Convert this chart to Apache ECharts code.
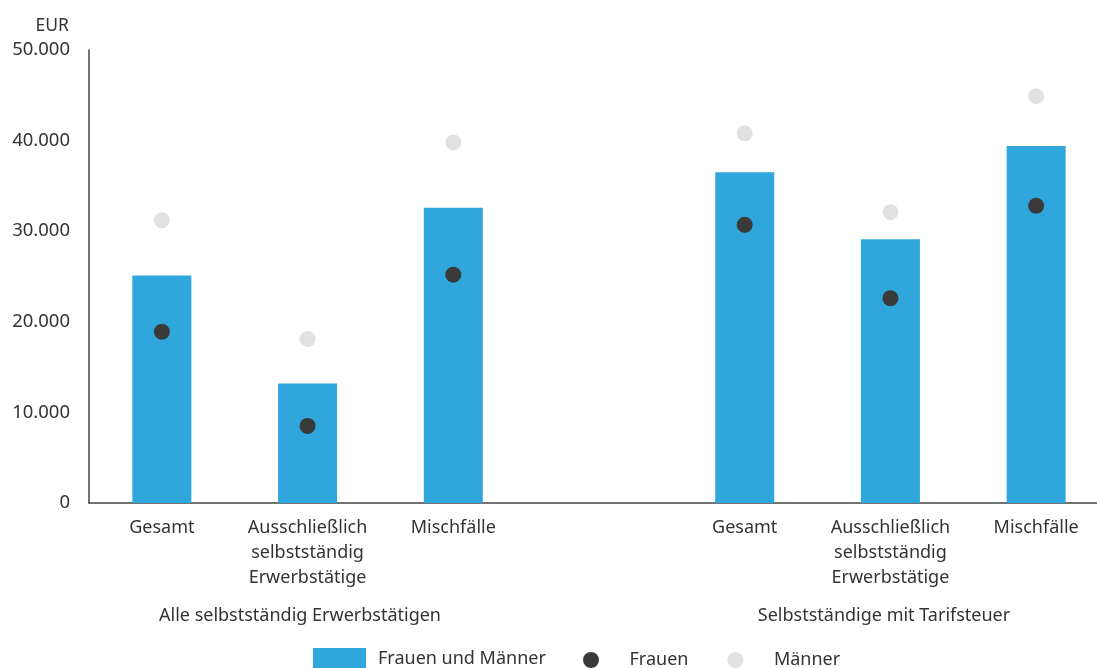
<!DOCTYPE html>
<html>
<head>
<meta charset="utf-8">
<script src="https://cdn.jsdelivr.net/npm/echarts@6/dist/echarts.min.js"></script>
<style>html,body{margin:0;padding:0;background:#fff}#c{width:1097px;height:668px}</style>
</head>
<body>
<div id="c"></div>
<script>
const categories = ['Gesamt', 'Ausschließlich\nselbstständig\nErwerbstätige', 'Mischfälle', '', 'Gesamt', 'Ausschließlich\nselbstständig\nErwerbstätige', 'Mischfälle'];
const groupLabels = ['Alle selbstständig Erwerbstätigen', 'Selbstständige mit Tarifsteuer'];
const totalValues = [25100, 13200, 32600, '-', 36500, 29100, 39400];
const womenValues = [18900, 8500, 25200, '-', 30700, 22600, 32800];
const menValues = [31200, 18100, 39800, '-', 40800, 32100, 44900];
const yTicks = { min: 0, max: 50000, interval: 10000 };

const FONT = 'Noto Sans';
const TXT = '#333333';
const chart = echarts.init(document.getElementById('c'), null, { renderer: 'canvas' });

const fmt = v => String(v).replace(/\B(?=(\d{3})+(?!\d))/g, '.');

chart.setOption({
  animation: false,
  textStyle: { fontFamily: FONT, color: TXT },
  grid: { left: 89, top: 50, width: 1020, bottom: 165, containLabel: false, outerBoundsMode: 'none' },
  legend: [
    {
      data: [{ name: 'Frauen und Männer', icon: 'rect' }],
      left: 308, top: 643,
      itemWidth: 53, itemHeight: 21,
      textStyle: { fontFamily: FONT, fontSize: 18, color: TXT, padding: [0, 0, 0, 7] }
    },
    {
      data: [{ name: 'Frauen', icon: 'circle' }, { name: 'Männer', icon: 'circle' }],
      left: 578, top: 646,
      itemWidth: 53, itemHeight: 16, itemGap: 39,
      textStyle: { fontFamily: FONT, fontSize: 18, color: TXT, padding: [0, 0, 0, 7] }
    }
  ],
  xAxis: {
    type: 'category',
    data: categories,
    axisLine: { lineStyle: { color: '#444', width: 1.5 } },
    axisTick: { show: false },
    axisLabel: { interval: 0, fontFamily: FONT, fontSize: 18, color: TXT, lineHeight: 25, margin: 12 }
  },
  yAxis: {
    type: 'value',
    min: yTicks.min, max: yTicks.max, interval: yTicks.interval,
    name: 'EUR',
    nameLocation: 'end',
    nameGap: 15,
    nameTextStyle: { fontFamily: FONT, fontSize: 17.5, color: TXT, align: 'right', padding: [0, 20, 0, 0] },
    axisLine: { show: true, lineStyle: { color: '#444', width: 1.5 } },
    axisTick: { show: false },
    splitLine: { show: false },
    axisLabel: { fontFamily: FONT, fontSize: 18.5, color: TXT, margin: 19, formatter: fmt }
  },
  graphic: [
    { type: 'text', x: 300, y: 616, style: { text: groupLabels[0], font: '18px "Noto Sans"', fill: TXT, align: 'center', verticalAlign: 'middle' } },
    { type: 'text', x: 884, y: 616, style: { text: groupLabels[1], font: '18px "Noto Sans"', fill: TXT, align: 'center', verticalAlign: 'middle' } }
  ],
  series: [
    {
      name: 'Frauen und Männer', type: 'bar', data: totalValues,
      barWidth: 59, itemStyle: { color: '#2fa6dc' }, z: 1
    },
    {
      name: 'Frauen', type: 'scatter', data: womenValues,
      symbol: 'circle', symbolSize: 16, itemStyle: { color: '#3a3a3a', opacity: 1 }, z: 3
    },
    {
      name: 'Männer', type: 'scatter', data: menValues,
      symbol: 'circle', symbolSize: 16, itemStyle: { color: '#e1e1e1', opacity: 1 }, z: 3
    }
  ]
});
</script>
</body>
</html>
